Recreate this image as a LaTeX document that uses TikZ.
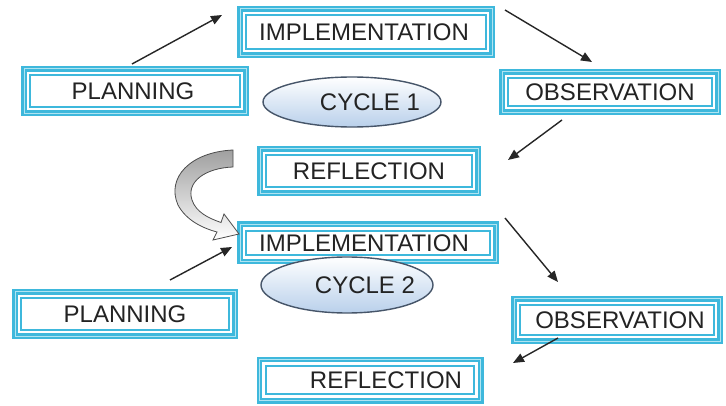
\documentclass[tikz,border=0pt]{standalone}
\usepackage{fontspec}
\setmainfont{Liberation Sans}
\usetikzlibrary{arrows.meta,shapes.geometric,calc}
\definecolor{cyanb}{RGB}{62,184,220}
\definecolor{cyanl}{RGB}{175,228,242}
\definecolor{txt}{RGB}{35,35,35}
\definecolor{ellb}{RGB}{70,85,105}
\definecolor{ellf}{RGB}{185,208,235}
\tikzset{
  inbox/.style={draw=cyanb, line width=1.8pt, fill=white, inner sep=0pt},
  band/.style={draw=cyanb, line width=2.5pt, double=cyanl, double distance=0.8pt},
  lbl/.style={font=\fontsize{24}{24}\selectfont, text=txt, inner sep=0pt},
  cyc/.style={ellipse, draw=ellb, line width=1.4pt, top color=white, bottom color=ellf, inner sep=0pt},
  conn/.style={draw=black!85, line width=1.4pt, -{Triangle[length=11pt,width=9pt]}},
  bigarrow/.style={draw=black!70, line width=0.8pt, top color=gray!75, bottom color=white}
}
% name, cx, cy, W, H, text, text xshift
\newcommand\cbox[7]{%
  \node[inbox, minimum width={#4-16.6}, minimum height={#5-16.6}] (#1) at (#2,#3) {};
  \draw[band] ($(#1.north west)+(-5.5,-5.5)$) rectangle ($(#1.south east)+(5.5,5.5)$);
  \node[lbl] (#1t) at ($(#1)+(#7,0)$) {#6};
}
\begin{document}
\begin{tikzpicture}[x=1pt,y=-1pt]
\useasboundingbox (0,0) rectangle (726,406);
\fill[white] (0,0) rectangle (726,406);

% cycle 1
\cbox{impA}{366}{32}{256}{50}{IMPLEMENTATION}{-2}
\cbox{planA}{135}{91}{226}{48}{PLANNING}{-2}
\cbox{obsA}{610}{92}{220}{44}{OBSERVATION}{0}
\cbox{refA}{369}{171}{222}{48}{REFLECTION}{0}
\node[cyc, minimum width=178pt, minimum height=50pt] (cycA) at (352,102) {};
\node[lbl] (cycAt) at (370,102) {CYCLE 1};

% cycle 2
\cbox{impB}{368}{243}{260}{41}{IMPLEMENTATION}{-4}
\cbox{planB}{125}{314}{224}{48}{PLANNING}{0}
\cbox{obsB}{617}{320}{210}{46}{OBSERVATION}{3}
\cbox{refB}{370}{380}{225}{45}{REFLECTION}{16}
\node[cyc, minimum width=172pt, minimum height=56pt] (cycB) at (347,285) {};
\node[lbl] (cycBt) at (365,285) {CYCLE 2};

% connector end points
\coordinate (a1s) at (132,64);  \coordinate (a1e) at (222,15);
\coordinate (a2s) at (505,10);  \coordinate (a2e) at (592,62);
\coordinate (a3s) at (562,120); \coordinate (a3e) at (508,160);
\coordinate (a4s) at (170,280); \coordinate (a4e) at (232,247);
\coordinate (a5s) at (505,218); \coordinate (a5e) at (558,282);
\coordinate (a6s) at (558,338); \coordinate (a6e) at (513,363);

% curved block arrow
\path[bigarrow] (233,150) .. controls (190,152) and (166,178) .. (178,205)
  .. controls (186,220) and (202,228) .. (217,232)
  -- (213,240) -- (239,234) -- (224,214) -- (221,222.5)
  .. controls (208,218) and (196,212) .. (192,200)
  .. controls (186,182) and (205,168) .. (233,167) -- cycle;

\draw[conn] (a1s) -- (a1e);
\draw[conn] (a2s) -- (a2e);
\draw[conn] (a3s) -- (a3e);
\draw[conn] (a4s) -- (a4e);
\draw[conn] (a5s) -- (a5e);
\draw[conn] (a6s) -- (a6e);
\end{tikzpicture}
\end{document}
